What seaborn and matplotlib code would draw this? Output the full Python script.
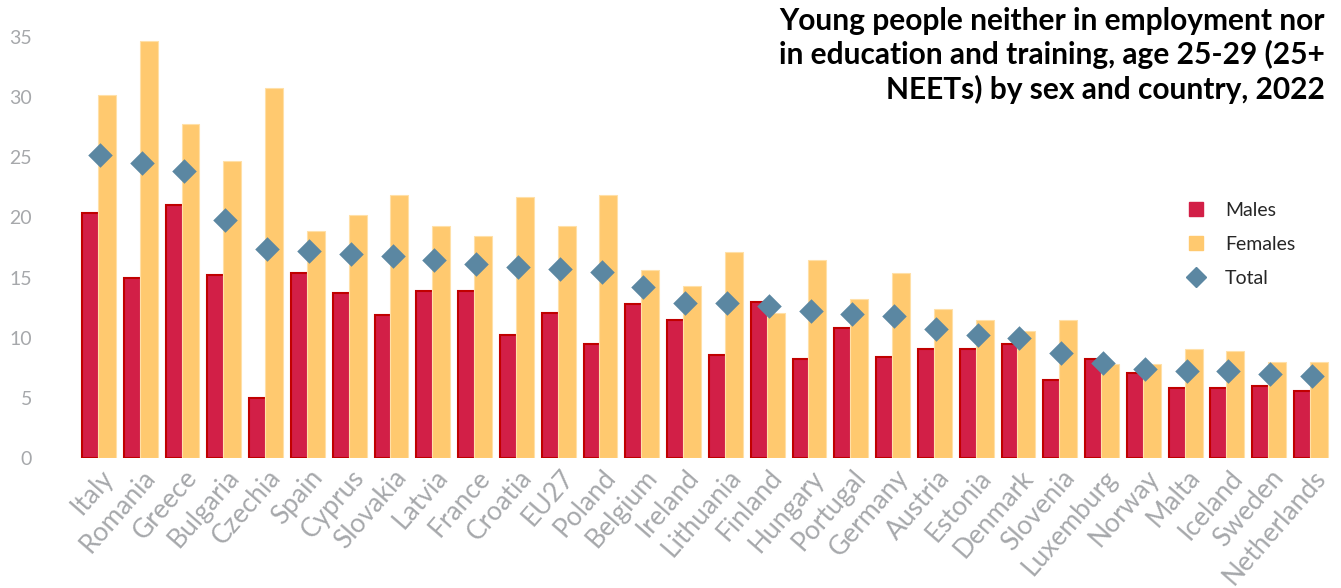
import pandas as pd
import seaborn as sns
import matplotlib.pyplot as plt
from matplotlib.lines import Line2D

countries = ['Italy', 'Romania', 'Greece', 'Bulgaria', 'Czechia', 'Spain', 'Cyprus',
             'Slovakia', 'Latvia', 'France', 'Croatia', 'EU27', 'Poland', 'Belgium',
             'Ireland', 'Lithuania', 'Finland', 'Hungary', 'Portugal', 'Germany',
             'Austria', 'Estonia', 'Denmark', 'Slovenia', 'Luxemburg', 'Norway',
             'Malta', 'Iceland', 'Sweden', 'Netherlands']
males = [20.4, 15.0, 21.0, 15.2, 5.0, 15.4, 13.7, 11.9, 13.9, 13.9, 10.2, 12.1, 9.5, 12.8,
         11.5, 8.6, 13.0, 8.2, 10.8, 8.4, 9.1, 9.1, 9.5, 6.5, 8.2, 7.1, 5.8, 5.8, 6.0, 5.6]
females = [30.2, 34.7, 27.8, 24.7, 30.8, 18.9, 20.2, 21.9, 19.3, 18.5, 21.7, 19.3, 21.9, 15.6,
           14.3, 17.1, 12.1, 16.5, 13.2, 15.4, 12.4, 11.5, 10.6, 11.5, 7.8, 7.8, 9.1, 8.9, 8.0, 8.0]
total = [25.2, 24.5, 23.9, 19.8, 17.4, 17.2, 17.0, 16.8, 16.5, 16.1, 15.9, 15.7, 15.5, 14.2,
         12.9, 12.9, 12.6, 12.2, 12.0, 11.8, 10.7, 10.2, 10.0, 8.7, 7.9, 7.4, 7.2, 7.2, 7.0, 6.8]

MALE_COLOR = '#D21F47'
MALE_EDGE = '#C00000'
FEMALE_COLOR = '#FFC96F'
TOTAL_COLOR = '#5B87A2'
GREY = '#A6A8AB'

sns.set_theme(style='white')
plt.rcParams['font.family'] = ['Lato', 'DejaVu Sans']

df_bars = pd.DataFrame({
    'country': countries * 2,
    'value': males + females,
    'sex': ['Males'] * len(countries) + ['Females'] * len(countries),
})
df_total = pd.DataFrame({'country': countries, 'value': total})

fig = plt.figure(figsize=(13.41, 5.88), dpi=100)
ax = fig.add_axes([0.059, 0.221, 0.935, 0.716])

sns.barplot(data=df_bars, x='country', y='value', hue='sex', order=countries,
            hue_order=['Males', 'Females'], palette=[MALE_COLOR, FEMALE_COLOR],
            width=0.86, saturation=1, legend=False, ax=ax)
n = len(countries)
for i, p in enumerate(ax.patches[:2 * n]):
    if i < n:
        p.set_edgecolor(MALE_EDGE)
        p.set_linewidth(1.5)
    else:
        p.set_edgecolor('#FFE0A8')
        p.set_linewidth(0.8)
        p.set_x(p.get_x() - 0.05)

sns.stripplot(data=df_total, x='country', y='value', order=countries, jitter=False,
              marker='D', size=12.5, color=TOTAL_COLOR, linewidth=0, ax=ax, zorder=5)

ax.set_ylim(0, 35)
ax.set_xlim(-0.5, n - 0.5)
ax.set_yticks(range(0, 36, 5))
ax.set_xlabel('')
ax.set_ylabel('')
sns.despine(ax=ax, left=True, bottom=True)
ax.tick_params(axis='y', colors=GREY, labelsize=14, pad=34, length=0)
ax.tick_params(axis='x', colors=GREY, labelsize=19, pad=5, length=0)
plt.setp(ax.get_xticklabels(), rotation=49, ha='right', rotation_mode='anchor')

handles = [
    Line2D([], [], marker='s', linestyle='none', markersize=10, color=MALE_COLOR),
    Line2D([], [], marker='s', linestyle='none', markersize=10, color=FEMALE_COLOR),
    Line2D([], [], marker='D', linestyle='none', markersize=10, color=TOTAL_COLOR),
]
fig.legend(handles, ['Males', 'Females', 'Total'], loc='upper left',
           bbox_to_anchor=(0.870, 0.686), frameon=False, fontsize=14,
           labelspacing=0.86, handletextpad=0.9, handlelength=1.2)

fig.text(0.988, 0.988, 'Young people neither in employment nor\n'
         'in education and training, age 25-29 (25+\n'
         'NEETs) by sex and country, 2022',
         ha='right', va='top', fontsize=21.5, fontweight='bold', color='black',
         linespacing=1.22)

fig.savefig('out.png', dpi=100)
